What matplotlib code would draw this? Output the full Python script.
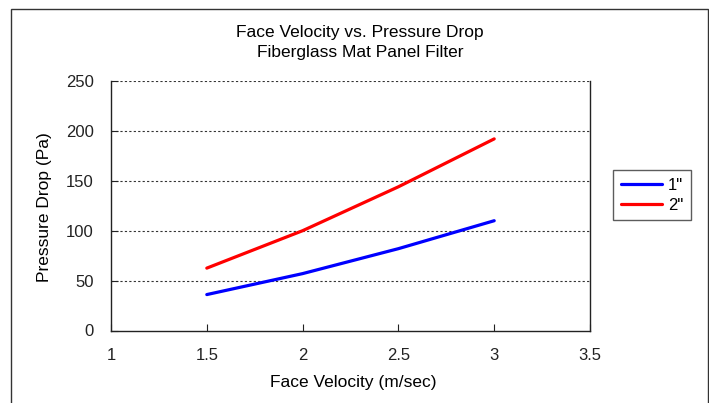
import numpy as np
import matplotlib.pyplot as plt
from matplotlib.patches import Rectangle

# data
velocity = [1.5, 2.0, 2.5, 3.0]
drop_1in = [36, 57, 82, 110]
drop_2in = [62.5, 100, 144, 192]
series_labels = ['1"', '2"']

plt.rcParams['font.family'] = ['Liberation Sans', 'DejaVu Sans']

fig = plt.figure(figsize=(7.09, 4.03), dpi=100)
ax = fig.add_axes([111 / 709, 1 - 330.5 / 403, 479 / 709, 249.5 / 403])

ax.plot(velocity, drop_1in, color='#0000ff', lw=2.3, solid_capstyle='round', label=series_labels[0])
ax.plot(velocity, drop_2in, color='#ff0000', lw=2.3, solid_capstyle='round', label=series_labels[1])

ax.set_xlim(1, 3.5)
ax.set_ylim(0, 250)
ax.set_xticks(np.arange(1, 3.51, 0.5))
ax.set_xticklabels(['1', '1.5', '2', '2.5', '3', '3.5'])
ax.set_yticks(np.arange(0, 251, 50))

for yv in [50, 100, 150, 200, 250]:
    ax.axhline(yv, color='#333333', lw=0.8, ls=(0, (2, 2)), zorder=0.5)

ax.spines['top'].set_visible(False)
for s in ['left', 'bottom', 'right']:
    ax.spines[s].set_color('#222222')
    ax.spines[s].set_linewidth(1.0)

ax.tick_params(direction='in', length=5, width=0.8, labelsize=12, colors='#222222')
ax.tick_params(axis='y', pad=12.5)
ax.tick_params(axis='x', pad=12.5)

ax.set_xlabel('Face Velocity (m/sec)', fontsize=12.5)
ax.xaxis.set_label_coords(0.505, -0.18)
ax.set_ylabel('Pressure Drop (Pa)', fontsize=12.5, va='center')
ax.yaxis.set_label_coords(-0.138, 0.495)

fig.text(360 / 709, 1 - 37 / 403, 'Face Velocity vs. Pressure Drop', ha='center', va='baseline', fontsize=12.5)
fig.text(360 / 709, 1 - 57.5 / 403, 'Fiberglass Mat Panel Filter', ha='center', va='baseline', fontsize=12.5)

leg = ax.legend(loc='upper left', bbox_to_anchor=(613 / 709, 1 - 170 / 403),
                bbox_transform=fig.transFigure, fontsize=12, frameon=True,
                fancybox=False, edgecolor='#333333', handlelength=2.5,
                borderpad=0.45, labelspacing=0.3, handletextpad=0.35,
                borderaxespad=0)
leg.get_frame().set_linewidth(1.0)

# outer chart border
fig.add_artist(Rectangle((11 / 709, -0.05), 697 / 709, 1.05 - 9.5 / 403,
                         transform=fig.transFigure, fill=False,
                         edgecolor='#333333', lw=1.0, clip_on=False))

fig.savefig('out.png', dpi=100)
